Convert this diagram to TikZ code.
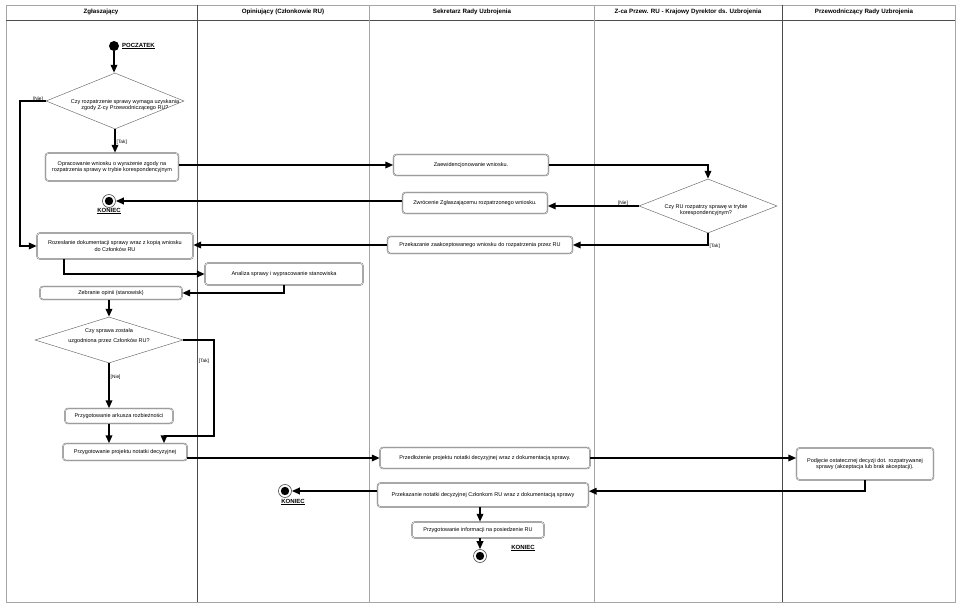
\documentclass[tikz,border=0pt]{standalone}
\usepackage{fontspec}
\setmainfont{Liberation Sans}
\usetikzlibrary{arrows.meta,shapes.geometric,calc}
\begin{document}
\begin{tikzpicture}[x=1pt,y=-1pt,
 box/.style={draw=black!60, line width=0.45pt, rounded corners=3pt, double=white, double distance=0.45pt, inner sep=1pt, align=center, font=\fontsize{5.5}{6.5}\selectfont},
 dia/.style={draw=black!60, line width=0.45pt, diamond, inner sep=0pt},
 dtxt/.style={align=center, font=\fontsize{5.5}{6.5}\selectfont, inner sep=0pt},
 arr/.style={line width=1.8pt, -{Triangle[length=8pt,width=6.5pt]}},
 cond/.style={font=\fontsize{4.8}{5.5}\selectfont, inner sep=0.5pt},
 term/.style={font=\bfseries\fontsize{6}{7}\selectfont, inner sep=0pt},
 startc/.style={circle, fill=black, minimum size=10pt, inner sep=0pt},
 endc/.style={circle, draw=black!70, line width=0.6pt, minimum size=13pt, inner sep=0pt, path picture={\fill[black] (path picture bounding box.center) circle (4.2pt);}},
 hdr/.style={font=\bfseries\fontsize{6.2}{7}\selectfont, inner sep=0pt},
 lane/.style={draw=black!70, line width=0.4pt},
 lanel/.style={draw=black!35, line width=0.4pt},
 frame/.style={draw=black!35, line width=0.9pt}]
\useasboundingbox (0,0) rectangle (962,609);
% frame and lanes
\draw[frame] (6,5) rectangle (955,602);
\draw[lane] (6,20) -- (955,20);
\draw[lane] (197,5) -- (197,602);
\draw[lanel] (369,5) -- (369,602);
\draw[lanel] (594,5) -- (594,602);
\draw[lane] (782,5) -- (782,602);
\node[hdr] (h1) at (101,12) {Zgłaszający};
\node[hdr] (h2) at (283,12) {Opiniujący (Członkowie RU)};
\node[hdr] (h3) at (472,12) {Sekretarz Rady Uzbrojenia};
\node[hdr] (h4) at (688,12) {Z-ca Przew. RU - Krajowy Dyrektor ds. Uzbrojenia};
\node[hdr] (h5) at (864,12) {Przewodniczący Rady Uzbrojenia};
% lane 1
\node[startc] (start) at (114,46) {};
\node[term, anchor=west] (poc) at (122,46) {\underline{POCZATEK}};
\node[dia, minimum width=138pt, minimum height=56pt] (d1) at (115,101) {};
\node[dtxt] (d1t) at (125,105) {Czy rozpatrzenie sprawy wymaga uzyskania\\zgody Z-cy Przewodniczącego RU?};
\node[box, minimum width=133pt, minimum height=28pt] (opr) at (112,167) {Opracowanie wniosku o wyrażenie zgody na\\rozpatrzenia sprawy w trybie korespondencyjnym};
\node[endc] (end1) at (109,201) {};
\node[term] (k1) at (109,211) {\underline{KONIEC}};
\node[box, minimum width=156pt, minimum height=26pt] (roz) at (115,246) {Rozesłanie dokumentacji sprawy wraz z kopią wniosku\\do Członków RU};
\node[box, minimum width=142pt, minimum height=13pt] (zeb) at (111,293) {Zebranie opinii (stanowisk)};
\node[dia, minimum width=148pt, minimum height=46pt] (d2) at (109,340) {};
\node[dtxt] (d2t) at (109,336) {Czy sprawa została\\[4pt]uzgodniona przez Członków RU?};
\node[box, minimum width=108pt, minimum height=15pt] (ark) at (119,416) {Przygotowanie arkusza rozbieżności};
\node[box, minimum width=124pt, minimum height=17pt] (proj) at (125,452) {Przygotowanie projektu notatki decyzyjnej};
\node[endc] (end2) at (285,491) {};
\node[term] (k2) at (293,502) {\underline{KONIEC}};
% lane 2
\node[box, minimum width=158pt, minimum height=22pt] (ana) at (284,274) {Analiza sprawy i wypracowanie stanowiska};
% lane 3
\node[box, minimum width=155pt, minimum height=21pt] (zaew) at (471,165) {Zaewidencjonowanie wniosku.};
\node[box, minimum width=145pt, minimum height=21pt] (zwr) at (475,203) {Zwrócenie Zgłaszającemu rozpatrzonego wniosku.};
\node[box, minimum width=185pt, minimum height=17pt] (przek1) at (480,245) {Przekazanie zaakceptowanego wniosku do rozpatrzenia przez RU};
\node[box, minimum width=210pt, minimum height=21pt] (przed) at (485,458) {Przedłożenie projektu notatki decyzyjnej wraz z dokumentacją sprawy.};
\node[box, minimum width=211pt, minimum height=24pt] (przek2) at (483,495) {Przekazanie notatki decyzyjnej Członkom RU wraz z dokumentacją sprawy};
\node[box, minimum width=132pt, minimum height=16pt] (przyg) at (478,530) {Przygotowanie informacji na posiedzenie RU};
\node[endc] (end3) at (480,556) {};
\node[term] (k3) at (523,548) {\underline{KONIEC}};
% lane 4
\node[dia, minimum width=138pt, minimum height=54pt] (d3) at (708,206) {};
\node[dtxt] (d3t) at (706,210) {Czy RU rozpatrzy sprawę w trybie\\korespondencyjnym?};
% lane 5
\node[box, minimum width=137pt, minimum height=32pt] (podj) at (865,464) {Podjęcie ostatecznej decyzji dot. rozpatrywanej\\sprawy (akceptacja lub brak akceptacji).};
% connectors
\draw[arr] (start) -- (start |- d1.north);
\draw[arr] (d1.west) -- ++(-26,0) |- (roz.west);
\node[cond] (c1) at (38,99) {[Nie]};
\draw[arr] (d1.south) -- (d1.south |- opr.north);
\node[cond, anchor=west] (c2) at (116,142) {[Tak]};
\draw[arr] (opr.east |- zaew.west) -- (zaew.west);
\draw[arr] (zaew.east) -| (d3.north);
\draw[arr] (d3.west) -- (d3.west -| zwr.east);
\node[cond] (c3) at (623,203) {[Nie]};
\draw[arr] (zwr.west |- end1) -- (end1);
\draw[arr] (d3.south) |- (przek1.east);
\node[cond, anchor=west] (c4) at (709,246) {[Tak]};
\draw[arr] (przek1.west) -- (przek1.west -| roz.east);
\draw[arr] ([xshift=27pt]roz.south west) |- (ana.west);
\draw[arr] (ana.south) |- (zeb.east);
\draw[arr] (zeb.south -| d2.north) -- (d2.north);
\draw[arr] (d2.east) -- ++(31,0) -- ++(0,96) -| ([xshift=39pt]proj.north);
\node[cond] (c5) at (204,361) {[Tak]};
\draw[arr] (d2.south) -- (d2.south |- ark.north);
\node[cond, anchor=west] (c6) at (110,377) {[Nie]};
\draw[arr] (ark.south -| d2.south) -- (proj.north -| d2.south);
\draw[arr] (proj.east |- przed.west) -- (przed.west);
\draw[arr] (przed.east) -- (przed.east -| podj.west);
\draw[arr] (podj.south) -- ++(0,11) coordinate (t1) -- (t1 -| przek2.east);
\draw[arr] (end2 -| przek2.west) -- (end2);
\draw[arr] (przek2.south -| end3) -- (przyg.north -| end3);
\draw[arr] (przyg.south -| end3) -- (end3);
\end{tikzpicture}
\end{document}
